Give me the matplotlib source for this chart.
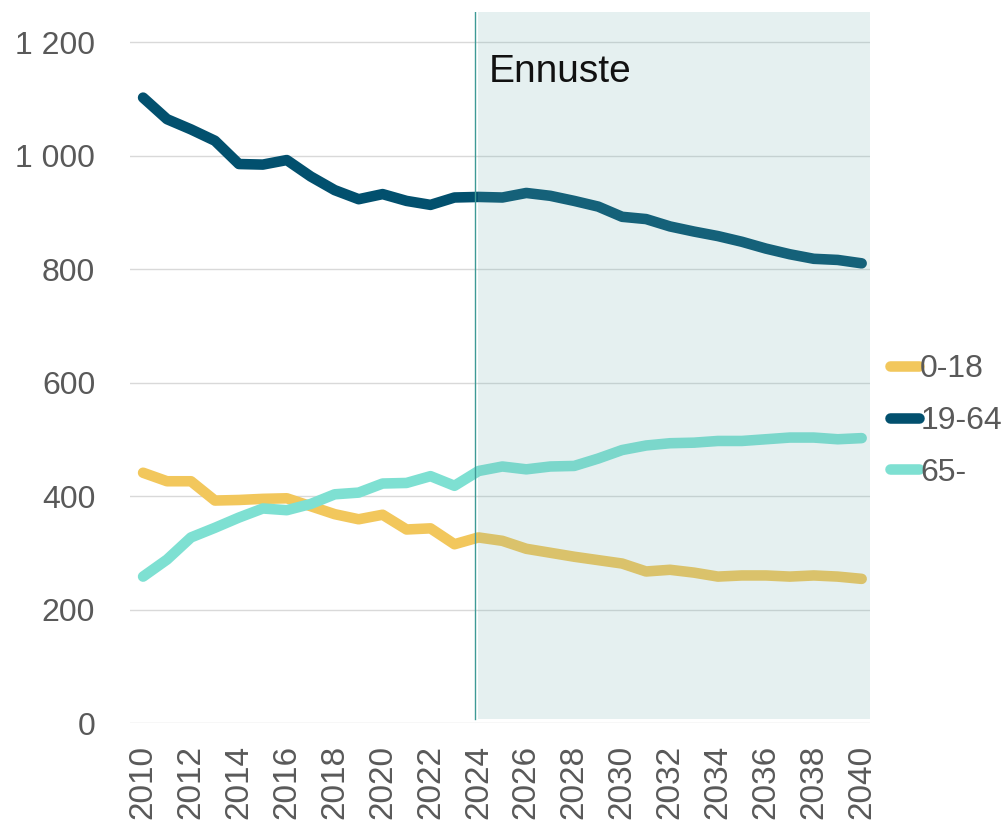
## population by age group with forecast shading
import numpy as np
import matplotlib.pyplot as plt

years = list(range(2010, 2041))

## values
age_0_18 = [441, 426, 426, 392, 393, 395, 396, 382, 368, 359, 367, 341, 343, 315, 327,
            321, 307, 300, 293, 287, 281, 267, 270, 265, 258, 260, 260, 258, 260, 258, 254]
age_19_64 = [1102, 1064, 1046, 1026, 985, 984, 992, 963, 939, 923, 932, 920, 913, 926, 927,
             926, 934, 929, 920, 910, 892, 888, 875, 866, 858, 848, 836, 826, 818, 816, 810]
age_65 = [258, 288, 327, 344, 362, 378, 375, 386, 403, 406, 422, 423, 435, 418, 444,
          452, 447, 452, 453, 466, 481, 489, 493, 494, 497, 497, 500, 503, 503, 500, 502]
labels = ['0-18', '19-64', '65-']
colors = ['#F2C75C', '#02506E', '#7EE0D2']
forecast_start = 2024
forecast_label = 'Ennuste'

plt.rcParams['font.family'] = ['Liberation Sans', 'DejaVu Sans']

fig = plt.figure(figsize=(10.07, 8.23), dpi=100)
ax = fig.add_axes([0.129, 0.1215, 0.735, 0.864])

xmax = 2040.35
ax.set_xlim(2009.45, xmax)
ax.set_ylim(0, 1253)

for vals, lab, col in zip([age_0_18, age_19_64, age_65], labels, colors):
    ax.plot(years, vals, color=col, lw=7.6, label=lab, solid_capstyle='round', zorder=2)

## forecast area on top of lines
ax.axvspan(forecast_start, xmax, ymin=0.006, ymax=1, color='#6FB0B0', alpha=0.18, lw=0, zorder=3)
ax.axvline(forecast_start - 0.15, ymin=0.006, color='#3E9A96', lw=1, zorder=4)
ax.text(forecast_start + 0.45, 1147, forecast_label, fontsize=28, color='#111111',
        va='center', ha='left', zorder=5)

ax.set_yticks(np.arange(0, 1201, 200))
ax.set_yticklabels(['0', '200', '400', '600', '800', '1 000', '1 200'],
                   fontsize=23, color='#595959')
ax.set_xticks(np.arange(2010, 2041, 2))
ax.set_xticklabels([str(y) for y in range(2010, 2041, 2)], rotation=90,
                   fontsize=24, color='#595959')
ax.tick_params(axis='both', length=0)
ax.tick_params(axis='y', pad=25)
ax.tick_params(axis='x', pad=16)
ax.grid(axis='y', color='#D9D9D9', lw=1, zorder=1)
for s in ax.spines.values():
    s.set_visible(False)

leg = ax.legend(loc='center left', bbox_to_anchor=(1.0, 0.425), frameon=False,
                fontsize=23, handlelength=0.9, handletextpad=0.05, labelspacing=0.68,
                borderaxespad=0.62, borderpad=0)
for t in leg.get_texts():
    t.set_color('#595959')

fig.savefig('out.png', dpi=100)
